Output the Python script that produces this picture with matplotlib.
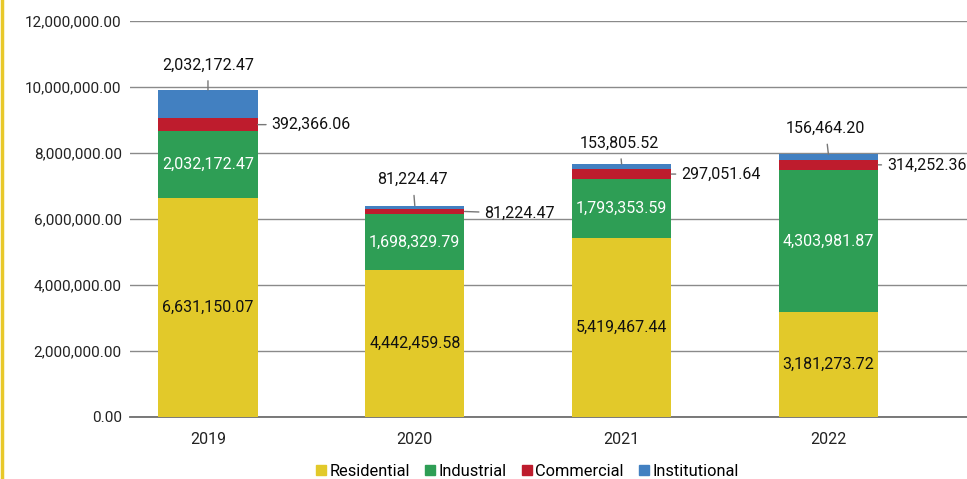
import matplotlib
matplotlib.use("Agg")
import matplotlib.pyplot as plt
from matplotlib.lines import Line2D
import numpy as np

plt.rcParams['font.family'] = ['Roboto', 'DejaVu Sans']

years = ["2019", "2020", "2021", "2022"]
residential = [6631150.07, 4442459.58, 5419467.44, 3181273.72]
industrial = [2032172.47, 1698329.79, 1793353.59, 4303981.87]
commercial = [392366.06, 175000.00, 297051.64, 314252.36]
institutional = [855000.00, 90000.00, 153805.52, 156464.20]
# values as printed on the chart labels
commercial_labels = [392366.06, 81224.47, 297051.64, 314252.36]
institutional_labels = [2032172.47, 81224.47, 153805.52, 156464.20]
series_names = ["Residential", "Industrial", "Commercial", "Institutional"]
colors = ["#E2C92A", "#2E9E55", "#BE1C2D", "#4280C1"]
y_ticks = [0, 2000000, 4000000, 6000000, 8000000, 10000000, 12000000]

W, H = 967, 479
fig = plt.figure(figsize=(W / 100, H / 100), dpi=100)
ax = fig.add_axes([130 / W, 1 - 417 / H, 1 - 130 / W, (417 - 21) / H])

x = np.arange(len(years))
bw = 0.48
data = [residential, industrial, commercial, institutional]
bottom = np.zeros(len(years))
bottoms = []
for vals, col, name in zip(data, colors, series_names):
    bottoms.append(bottom.copy())
    ax.bar(x, vals, bw, bottom=bottom, color=col, label=name, zorder=3)
    bottom = bottom + np.array(vals)

ax.set_xlim(-0.377, 3.67)
ax.set_ylim(0, 12000000)
ax.set_yticks(y_ticks)
ax.set_yticklabels([f"{v:,.2f}" for v in y_ticks])
ax.set_xticks(x)
ax.set_xticklabels(years)
ax.yaxis.grid(True, color="#8a8a8a", linewidth=1.0, zorder=0)
ax.set_axisbelow(True)
for s in ["top", "right", "left"]:
    ax.spines[s].set_visible(False)
ax.spines["bottom"].set_color("#6e6e6e")
ax.spines["bottom"].set_linewidth(1.3)
ax.tick_params(axis="y", length=0, pad=6, labelsize=11, labelcolor="#222222")
ax.tick_params(axis="x", length=0, pad=11, labelsize=11.5, labelcolor="#222222")

fs = 11.5
# inner labels
for i in range(len(years)):
    ax.text(x[i], bottoms[0][i] + residential[i] / 2, f"{residential[i]:,.2f}",
            ha="center", va="center", fontsize=fs, color="#111111", zorder=5)
    ax.text(x[i], bottoms[1][i] + industrial[i] / 2, f"{industrial[i]:,.2f}",
            ha="center", va="center", fontsize=fs, color="white", zorder=5)

# outer labels with leader lines (offsets in pixels)
inst_off = [(0, 25), (-2, 26), (-2, 21), (-3, 26)]
comm_off = [(14, 0), (20, -2), (10, 0), (9, -1)]
for i in range(len(years)):
    top = bottoms[3][i] + institutional[i]
    dx, dy = inst_off[i]
    ax.annotate(f"{institutional_labels[i]:,.2f}", xy=(x[i], top),
                xytext=(dx, dy), textcoords="offset pixels",
                ha="center", va="center", fontsize=fs, color="#111111",
                arrowprops=dict(arrowstyle="-", color="#777777", lw=1.0,
                                shrinkA=4, shrinkB=0), zorder=5)
    mid = bottoms[2][i] + commercial[i] / 2
    dx, dy = comm_off[i]
    ax.annotate(f"{commercial_labels[i]:,.2f}", xy=(x[i] + bw / 2, mid),
                xytext=(dx, dy), textcoords="offset pixels",
                ha="left", va="center", fontsize=fs, color="#111111",
                arrowprops=dict(arrowstyle="-", color="#777777", lw=1.0,
                                shrinkA=2, shrinkB=0), zorder=5)

handles = [Line2D([0], [0], marker="s", linestyle="none", markersize=7.2,
                  markerfacecolor=c, markeredgecolor=c) for c in colors]
fig.legend(handles, series_names, loc="center", bbox_to_anchor=(526 / W, 1 - 471 / H),
           ncol=4, frameon=False, fontsize=11.8, handletextpad=0.0,
           columnspacing=0.75, handlelength=1.0, borderaxespad=0)

# yellow accent bar on left edge
fig.add_artist(Line2D([1.5 / W, 1.5 / W], [0, 1], color="#E8C82A", lw=2.5,
                      transform=fig.transFigure))

fig.savefig("out.png", dpi=100)
